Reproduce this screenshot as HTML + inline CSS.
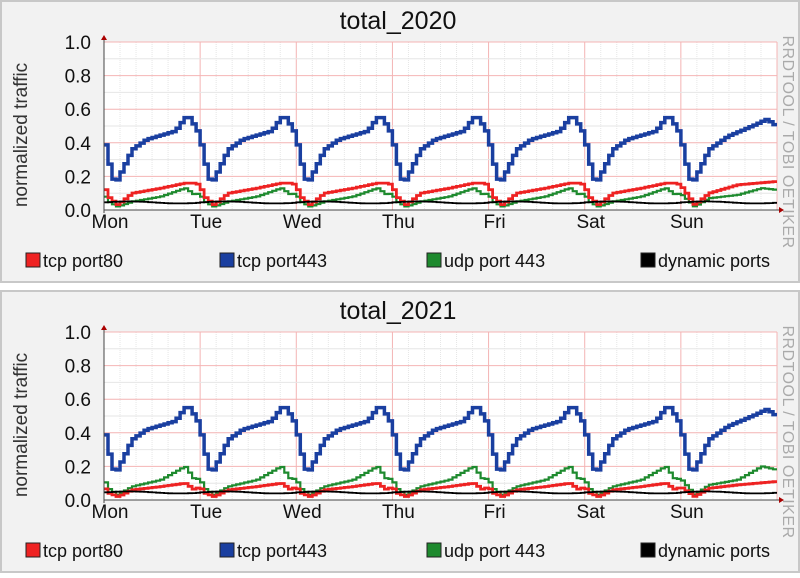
<!DOCTYPE html>
<html><head><meta charset="utf-8">
<style>
body{margin:0;width:800px;height:573px;background:#fff;overflow:hidden;font-family:"Liberation Sans",sans-serif;}
</style></head><body>
<svg id="s" width="800" height="573" xmlns="http://www.w3.org/2000/svg" font-family="Liberation Sans, sans-serif"></svg>
<script>
const S=document.getElementById('s');
let h='';
const X0=104,X1=777,DW=(X1-X0)/7;
const days=['Mon','Tue','Wed','Thu','Fri','Sat','Sun'];
function lerp(pts,t){for(let i=0;i<pts.length-1;i++){if(t>=pts[i][0]&&t<=pts[i+1][0]){const a=pts[i],b=pts[i+1];return a[1]+(b[1]-a[1])*(t-a[0])/(b[0]-a[0]);}}return pts[pts.length-1][1];}
const blue=[[0,0.45],[0.05,0.3],[0.12,0.15],[0.2,0.24],[0.3,0.36],[0.45,0.42],[0.75,0.47],[0.85,0.55],[0.9,0.55],[0.97,0.48],[1,0.45]];
const blueLast=[[0,0.45],[0.05,0.3],[0.12,0.15],[0.2,0.24],[0.3,0.36],[0.5,0.44],[0.75,0.5],[0.9,0.54],[1,0.5]];
const sets={
2020:{
 r:[[0,0.15],[0.05,0.08],[0.15,0.03],[0.3,0.1],[0.6,0.13],[0.85,0.16],[0.95,0.16],[1,0.15]],
 g:[[0,0.1],[0.05,0.05],[0.15,0.02],[0.3,0.05],[0.6,0.08],[0.85,0.13],[0.95,0.09],[1,0.1]],
 rl:[[0,0.15],[0.15,0.03],[0.3,0.1],[0.6,0.15],[1,0.17]],
 gl:[[0,0.1],[0.15,0.02],[0.3,0.07],[0.6,0.09],[0.85,0.13],[1,0.12]]},
2021:{
 r:[[0,0.08],[0.06,0.04],[0.15,0.02],[0.3,0.06],[0.6,0.08],[0.85,0.1],[0.95,0.06],[1,0.08]],
 g:[[0,0.13],[0.05,0.07],[0.15,0.03],[0.3,0.08],[0.6,0.12],[0.85,0.2],[0.95,0.12],[1,0.13]],
 rl:[[0,0.08],[0.15,0.02],[0.3,0.07],[0.6,0.09],[1,0.11]],
 gl:[[0,0.13],[0.15,0.03],[0.3,0.09],[0.6,0.12],[0.85,0.2],[1,0.18]]}};
function path(fn,yb,sc,col,w){let d='';const N=168,step=(X1-X0)/N;
 for(let i=0;i<N;i++){const t=(i+0.5)/N*7;const di=Math.floor(t);const v=fn(di,t-di);const y=(yb-v*sc).toFixed(1);const x=(X0+i*step).toFixed(1);
  if(i==0)d+='M'+x+' '+y;else d+=' V'+y;d+=' H'+(X0+(i+1)*step).toFixed(1);}
 return `<path d="${d}" fill="none" stroke="${col}" stroke-width="${w}"/>`;}
function panel(oy,year){
 const yt=oy+42,yb=oy+210,sc=168;
 h+=`<rect x="1" y="${oy+1}" width="798" height="281" fill="#f2f2f2" stroke="#c8c8c8" stroke-width="2"/>`;
 h+=`<rect x="${X0}" y="${yt}" width="${X1-X0}" height="${sc}" fill="#fff"/>`;
 for(let i=0;i<=42;i++){const x=X0+i*DW/6;h+=`<line x1="${x}" y1="${yt}" x2="${x}" y2="${yb}" stroke="${i%6==0?'#f4b4b4':'#e6e6e6'}" stroke-width="1" ${i%6==0?'':'stroke-dasharray="1,1"'}/>`;}
 for(let i=0;i<=10;i++){const y=yb-i*sc/10;h+=`<line x1="${X0}" y1="${y}" x2="${X1}" y2="${y}" stroke="${i%2==0?'#f4b4b4':'#e6e6e6'}" stroke-width="1"/>`;}
 const S=sets[year];
 h+=path((d,t)=>lerp(d==6?S.gl:S.g,t),yb,sc,'#1e8a2e',2.2);
 h+=path((d,t)=>lerp(d==6?S.rl:S.r,t),yb,sc,'#ee2222',2.8);
 h+=path((d,t)=>0.045+0.006*Math.sin(t*6),yb,sc,'#000',1.8);
 h+=path((d,t)=>lerp(d==6?blueLast:blue,t),yb,sc,'#1a3fa0',3.5);
 h+=`<line x1="${X0}" y1="${yb}" x2="${X1+4}" y2="${yb}" stroke="#444"/><line x1="${X0}" y1="${yt-4}" x2="${X0}" y2="${yb+3}" stroke="#444"/>`;
 h+=`<path d="M${X1+2} ${yb-3}L${X1+7} ${yb}L${X1+2} ${yb+3}Z" fill="#a00"/><path d="M${X0-3} ${yt-2}L${X0} ${yt-7}L${X0+3} ${yt-2}Z" fill="#a00"/>`;
 for(let i=0;i<=5;i++){h+=`<text x="${X0-13}" y="${yb-i*sc/5+7}" font-size="19" text-anchor="end" fill="#111">${(i*0.2).toFixed(1)}</text>`;}
 days.forEach((d,i)=>{h+=`<text x="${X0+i*DW+6}" y="${yb+18}" font-size="19" text-anchor="middle" fill="#111">${d}</text>`;});
 h+=`<text x="398" y="${oy+29}" font-size="25" text-anchor="middle" fill="#111">total_${year}</text>`;
 h+=`<text transform="translate(27 ${oy+135}) rotate(-90)" font-size="19" text-anchor="middle" fill="#333">normalized traffic</text>`;
 h+=`<text transform="translate(783 ${oy+142}) rotate(90)" font-size="16" text-anchor="middle" fill="#aaa" letter-spacing="0.5">RRDTOOL / TOBI OETIKER</text>`;
 const lg=[[26,'#ee2222','tcp port80'],[220,'#1a3fa0','tcp port443'],[427,'#1e8a2e','udp port 443'],[641,'#000','dynamic ports']];
 lg.forEach(l=>{h+=`<rect x="${l[0]}" y="${oy+253}" width="14" height="14" fill="${l[1]}" stroke="#222" stroke-width="1"/><text x="${l[0]+17}" y="${oy+267}" font-size="18" fill="#111">${l[2]}</text>`;});
}
panel(0,2020);panel(290,2021);
S.innerHTML=h;
</script>
</body></html>
